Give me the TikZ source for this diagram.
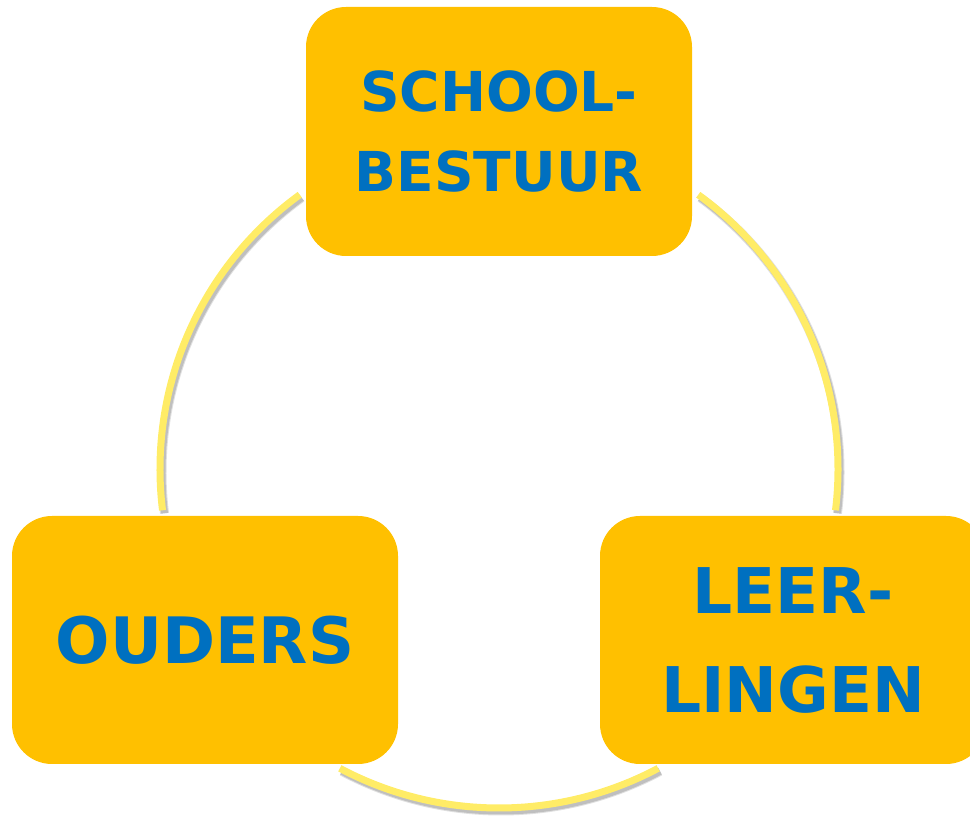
\documentclass[tikz,border=0pt]{standalone}
\usepackage{fontspec}
\setmainfont{DejaVu Sans}
\definecolor{boxfill}{HTML}{FFC000}
\definecolor{boxtext}{HTML}{0070C0}
\definecolor{arcline}{HTML}{FFEC66}
\begin{document}
\begin{tikzpicture}[x=1pt,y=1pt,
  party/.style={fill=boxfill, rounded corners=40pt, minimum width=386pt, inner sep=0pt,
    text=boxtext, font=\bfseries, align=center},
  ring/.style={draw=arcline, line width=7pt},
  ringshadow/.style={draw=black, line width=9pt, opacity=0.12}]
\useasboundingbox (0,0) rectangle (970,817);
\coordinate (c) at (499,348);
% arcs with shadows
\foreach \a/\b in {126/187, 54/-7, 242/298}{
  \draw[ringshadow] ([shift={(2,-3)}]c) ++(\a:339) arc[start angle=\a, end angle=\b, radius=339];
  \draw[ringshadow, line width=7pt, opacity=0.15] ([shift={(2,-3)}]c) ++(\a:339) arc[start angle=\a, end angle=\b, radius=339];
  \draw[ring] (c) ++(\a:339) arc[start angle=\a, end angle=\b, radius=339];
}
\node[party, minimum height=249pt, font=\bfseries\fontsize{55}{80}\selectfont] (bestuur) at (499,685.5) {SCHOOL-\\BESTUUR};
\node[party, minimum height=248pt, font=\bfseries\fontsize{64}{80}\selectfont] (ouders) at (205,177) {OUDERS};
\node[party, minimum height=248pt, font=\bfseries\fontsize{63}{99}\selectfont] (leerlingen) at (793,177) {LEER-\\LINGEN};
\end{tikzpicture}
\end{document}
